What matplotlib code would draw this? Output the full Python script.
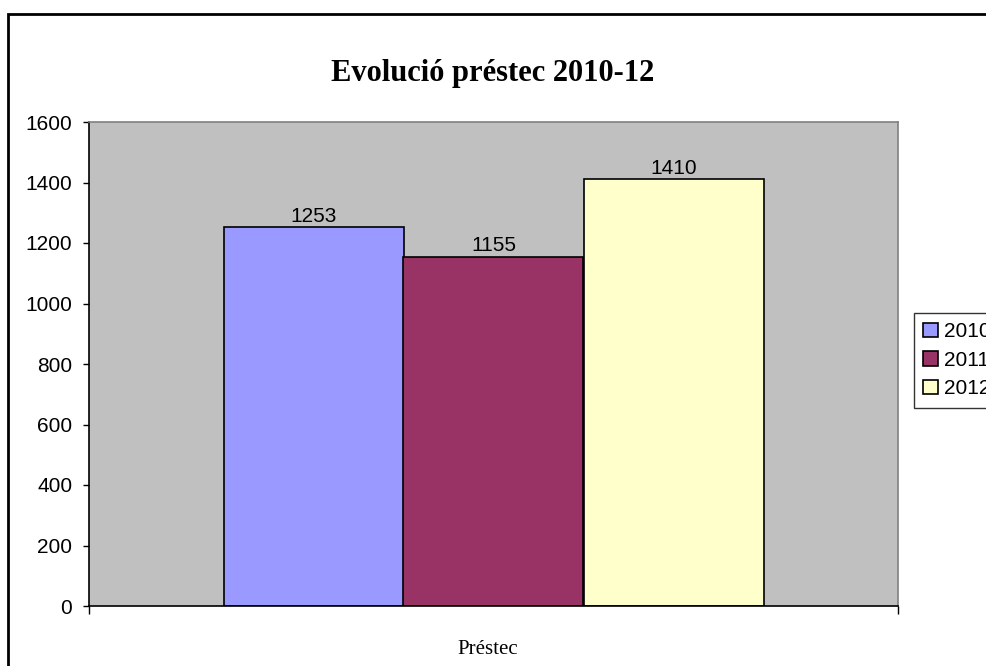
import numpy as np
import matplotlib
matplotlib.use("Agg")
import matplotlib.pyplot as plt
from matplotlib.patches import Rectangle

# data
years = ["2010", "2011", "2012"]
values = [1253, 1155, 1410]
category = "Préstec"
title = "Evolució préstec 2010-12"
colors = ["#9999FF", "#993366", "#FFFFCC"]

W, H = 987, 666
fig = plt.figure(figsize=(W / 100, H / 100), dpi=100)

# outer chart border (cut by the right / bottom edges, as in the source)
fig.patches.append(Rectangle((8 / W, -0.2), 1.3, 1.2 - 14 / H,
                             transform=fig.transFigure, fill=False,
                             edgecolor="black", linewidth=2, clip_on=False))

ax = fig.add_axes([89 / W, 1 - 606 / H, (898 - 89) / W, (606 - 122) / H])
ax.set_facecolor("#C0C0C0")

w = 180 / 809
x = 0.5 + (np.arange(len(values)) - 1) * w
for xi, v, c, lab in zip(x, values, colors, years):
    ax.bar(xi, v, width=w, color=c, edgecolor="black", linewidth=1.2, label=lab)
    ax.annotate(str(v), (xi, v), xytext=(0, 1), textcoords="offset points",
                ha="center", va="bottom", fontsize=15, family="Liberation Sans")

ax.set_xlim(0, 1)
ax.set_ylim(0, 1600)
ax.set_yticks(np.arange(0, 1601, 200))
ax.set_xticks([0, 1])
ax.set_xticklabels([])
ax.tick_params(axis="y", direction="out", length=4, width=1, labelsize=15, pad=8)
ax.tick_params(axis="x", direction="out", length=6, width=1)
for t in ax.get_yticklabels():
    t.set_family("Liberation Sans")

ax.spines["left"].set_color("black")
ax.spines["bottom"].set_color("black")
ax.spines["top"].set_color("#808080")
ax.spines["right"].set_color("#808080")
for s in ax.spines.values():
    s.set_linewidth(1.2)

fig.text(493 / W, 1 - 73 / H, title, ha="center", va="center",
         fontsize=22, fontweight="bold", family="Liberation Serif")
fig.text(488 / W, 1 - 649 / H, category, ha="center", va="center",
         fontsize=15, family="Liberation Serif")

leg = fig.legend(loc="upper left", bbox_to_anchor=(914 / W, 1 - 313 / H),
                 frameon=True, fancybox=False, edgecolor="black",
                 prop={"family": "Liberation Sans", "size": 15},
                 handlelength=0.7, handleheight=0.7, handletextpad=0.3,
                 labelspacing=0.45, borderpad=0.45, borderaxespad=0)
leg.get_frame().set_linewidth(1)

fig.savefig("out.png", dpi=100)
